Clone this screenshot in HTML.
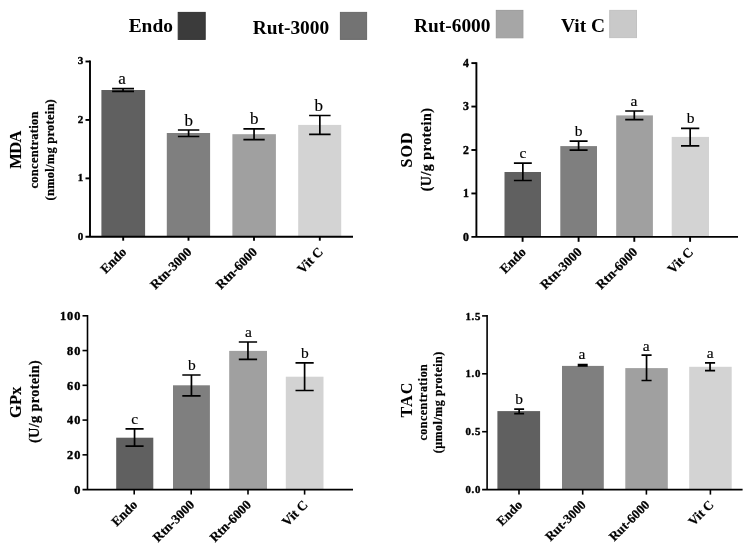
<!DOCTYPE html><html><head><meta charset="utf-8"><style>html,body{margin:0;padding:0;background:#fff;}svg{display:block;filter:grayscale(1);}text{font-family:"Liberation Serif",serif;stroke:#000;stroke-width:0.22px;}.tk{stroke-width:0.4px;}.lt{stroke-width:0.15px;}.lg{stroke-width:0;}.bt{stroke-width:0.1px;}</style></head><body>
<svg width="749" height="553" viewBox="0 0 749 553">
<rect width="749" height="553" fill="#fff"/>
<text x="128.7" y="31.7" font-size="19.4" font-weight="bold" class="lg">Endo</text>
<rect x="178.2" y="12.4" width="27.0" height="27.0" fill="#3b3b3b" stroke="#333" stroke-width="1"/>
<text x="252.7" y="34" font-size="19.4" font-weight="bold" class="lg">Rut-3000</text>
<rect x="340.4" y="12.4" width="26.2" height="27.0" fill="#737373" stroke="#6a6a6a" stroke-width="1"/>
<text x="414" y="32.1" font-size="19.4" font-weight="bold" class="lg">Rut-6000</text>
<rect x="496.3" y="10.4" width="26.6" height="27.4" fill="#a6a6a6" stroke="#9c9c9c" stroke-width="1"/>
<text x="561" y="31.5" font-size="19.4" font-weight="bold" class="lg">Vit C</text>
<rect x="609.7" y="10.4" width="26.8" height="27.2" fill="#c9c9c9" stroke="#c2c2c2" stroke-width="1"/>
<rect x="101.4" y="90.0" width="43.70" height="146.80" fill="#606060"/>
<rect x="166.8" y="133.0" width="43.30" height="103.80" fill="#7f7f7f"/>
<rect x="232.4" y="134.2" width="43.50" height="102.60" fill="#a0a0a0"/>
<rect x="298.2" y="124.9" width="43.00" height="111.90" fill="#d3d3d3"/>
<path d="M112.10 88.6H134.00M112.10 91.3H134.00M123.05 88.6V91.3" stroke="#000" stroke-width="1.7" fill="none"/>
<path d="M177.90 130.0H199.30M177.90 136.5H199.30M188.60 130.0V136.5" stroke="#000" stroke-width="1.7" fill="none"/>
<path d="M243.40 128.8H264.70M243.40 139.7H264.70M254.05 128.8V139.7" stroke="#000" stroke-width="1.7" fill="none"/>
<path d="M309.10 115.5H330.60M309.10 134.4H330.60M319.85 115.5V134.4" stroke="#000" stroke-width="1.7" fill="none"/>
<text x="122.0" y="84.1" font-size="17" text-anchor="middle" class="lt">a</text>
<text x="188.65" y="125.8" font-size="17" text-anchor="middle" class="lt">b</text>
<text x="254.25" y="124.1" font-size="17" text-anchor="middle" class="lt">b</text>
<text x="318.75" y="110.6" font-size="17" text-anchor="middle" class="lt">b</text>
<path d="M90.0 60.55V236.8M85.5 236.8H353" stroke="#000" stroke-width="1.9" fill="none"/>
<path d="M85.5 178.37H90.0" stroke="#000" stroke-width="1.90"/>
<path d="M85.5 119.93H90.0" stroke="#000" stroke-width="1.90"/>
<path d="M85.5 61.50H90.0" stroke="#000" stroke-width="1.90"/>
<text x="83.20" y="239.54" font-size="11" font-weight="bold" text-anchor="end" class="tk">0</text>
<text x="83.20" y="181.11" font-size="11" font-weight="bold" text-anchor="end" class="tk">1</text>
<text x="83.20" y="122.67" font-size="11" font-weight="bold" text-anchor="end" class="tk">2</text>
<text x="83.20" y="64.24" font-size="11" font-weight="bold" text-anchor="end" class="tk">3</text>
<path d="M123.20 236.8V240.70" stroke="#000" stroke-width="1.90"/>
<path d="M188.50 236.8V240.70" stroke="#000" stroke-width="1.90"/>
<path d="M254.00 236.8V240.70" stroke="#000" stroke-width="1.90"/>
<path d="M319.80 236.8V240.70" stroke="#000" stroke-width="1.90"/>
<text transform="translate(127.20,252.80) rotate(-45)" font-size="13.3" font-weight="bold" text-anchor="end">Endo</text>
<text transform="translate(192.50,252.80) rotate(-45)" font-size="13.3" font-weight="bold" text-anchor="end">Rtn-3000</text>
<text transform="translate(258.00,252.80) rotate(-45)" font-size="13.3" font-weight="bold" text-anchor="end">Rtn-6000</text>
<text transform="translate(323.80,252.80) rotate(-45)" font-size="13.3" font-weight="bold" text-anchor="end">Vit C</text>
<rect x="504.5" y="172.0" width="36.50" height="64.90" fill="#606060"/>
<rect x="560.3" y="146.1" width="36.70" height="90.80" fill="#7f7f7f"/>
<rect x="616.2" y="115.4" width="36.70" height="121.50" fill="#a0a0a0"/>
<rect x="671.7" y="136.9" width="37.30" height="100.00" fill="#d3d3d3"/>
<path d="M513.90 163.2H531.80M513.90 180.5H531.80M522.85 163.2V180.5" stroke="#000" stroke-width="1.7" fill="none"/>
<path d="M569.60 141.2H587.60M569.60 150.1H587.60M578.60 141.2V150.1" stroke="#000" stroke-width="1.7" fill="none"/>
<path d="M625.20 111.0H643.40M625.20 119.7H643.40M634.30 111.0V119.7" stroke="#000" stroke-width="1.7" fill="none"/>
<path d="M681.00 128.4H699.30M681.00 145.8H699.30M690.15 128.4V145.8" stroke="#000" stroke-width="1.7" fill="none"/>
<text x="522.95" y="157.9" font-size="15.5" text-anchor="middle" class="lt">c</text>
<text x="578.5" y="135.6" font-size="15.5" text-anchor="middle" class="lt">b</text>
<text x="634.0" y="105.8" font-size="15.5" text-anchor="middle" class="lt">a</text>
<text x="690.65" y="123.3" font-size="15.5" text-anchor="middle" class="lt">b</text>
<path d="M476.4 62.15V236.9M471.4 236.9H738" stroke="#000" stroke-width="1.9" fill="none"/>
<path d="M471.4 193.45H476.4" stroke="#000" stroke-width="1.90"/>
<path d="M471.4 150.00H476.4" stroke="#000" stroke-width="1.90"/>
<path d="M471.4 106.55H476.4" stroke="#000" stroke-width="1.90"/>
<path d="M471.4 63.10H476.4" stroke="#000" stroke-width="1.90"/>
<text x="469.00" y="240.61" font-size="11.8" font-weight="bold" text-anchor="end" class="tk">0</text>
<text x="469.00" y="197.16" font-size="11.8" font-weight="bold" text-anchor="end" class="tk">1</text>
<text x="469.00" y="153.71" font-size="11.8" font-weight="bold" text-anchor="end" class="tk">2</text>
<text x="469.00" y="110.26" font-size="11.8" font-weight="bold" text-anchor="end" class="tk">3</text>
<text x="469.00" y="66.81" font-size="11.8" font-weight="bold" text-anchor="end" class="tk">4</text>
<path d="M522.60 236.9V241.80" stroke="#000" stroke-width="1.90"/>
<path d="M578.60 236.9V241.80" stroke="#000" stroke-width="1.90"/>
<path d="M634.30 236.9V241.80" stroke="#000" stroke-width="1.90"/>
<path d="M690.10 236.9V241.80" stroke="#000" stroke-width="1.90"/>
<text transform="translate(526.60,252.90) rotate(-45)" font-size="13.3" font-weight="bold" text-anchor="end">Endo</text>
<text transform="translate(582.60,252.90) rotate(-45)" font-size="13.3" font-weight="bold" text-anchor="end">Rtn-3000</text>
<text transform="translate(638.30,252.90) rotate(-45)" font-size="13.3" font-weight="bold" text-anchor="end">Rtn-6000</text>
<text transform="translate(694.10,252.90) rotate(-45)" font-size="13.3" font-weight="bold" text-anchor="end">Vit C</text>
<rect x="116.2" y="437.7" width="37.10" height="51.90" fill="#606060"/>
<rect x="173.0" y="385.3" width="36.90" height="104.30" fill="#7f7f7f"/>
<rect x="229.2" y="350.9" width="37.80" height="138.70" fill="#a0a0a0"/>
<rect x="285.8" y="376.7" width="37.70" height="112.90" fill="#d3d3d3"/>
<path d="M125.50 428.8H143.60M125.50 446.2H143.60M134.55 428.8V446.2" stroke="#000" stroke-width="1.7" fill="none"/>
<path d="M182.30 375.0H200.60M182.30 395.9H200.60M191.45 375.0V395.9" stroke="#000" stroke-width="1.7" fill="none"/>
<path d="M238.80 342.0H257.10M238.80 359.3H257.10M247.95 342.0V359.3" stroke="#000" stroke-width="1.7" fill="none"/>
<path d="M295.50 362.8H313.70M295.50 390.5H313.70M304.60 362.8V390.5" stroke="#000" stroke-width="1.7" fill="none"/>
<text x="134.75" y="423.9" font-size="15.5" text-anchor="middle" class="lt">c</text>
<text x="191.95" y="369.8" font-size="15.5" text-anchor="middle" class="lt">b</text>
<text x="248.55" y="337.1" font-size="15.5" text-anchor="middle" class="lt">a</text>
<text x="304.9" y="358.4" font-size="15.5" text-anchor="middle" class="lt">b</text>
<path d="M87.5 315.00V489.6M82.5 489.6H353" stroke="#000" stroke-width="1.6" fill="none"/>
<path d="M82.5 454.84H87.5" stroke="#000" stroke-width="1.60"/>
<path d="M82.5 420.08H87.5" stroke="#000" stroke-width="1.60"/>
<path d="M82.5 385.32H87.5" stroke="#000" stroke-width="1.60"/>
<path d="M82.5 350.56H87.5" stroke="#000" stroke-width="1.60"/>
<path d="M82.5 315.80H87.5" stroke="#000" stroke-width="1.60"/>
<text x="81.20" y="493.78" font-size="12.3" font-weight="bold" text-anchor="end" class="tk" letter-spacing="0.9">0</text>
<text x="81.20" y="459.02" font-size="12.3" font-weight="bold" text-anchor="end" class="tk" letter-spacing="0.9">20</text>
<text x="81.20" y="424.26" font-size="12.3" font-weight="bold" text-anchor="end" class="tk" letter-spacing="0.9">40</text>
<text x="81.20" y="389.50" font-size="12.3" font-weight="bold" text-anchor="end" class="tk" letter-spacing="0.9">60</text>
<text x="81.20" y="354.74" font-size="12.3" font-weight="bold" text-anchor="end" class="tk" letter-spacing="0.9">80</text>
<text x="81.20" y="319.98" font-size="12.3" font-weight="bold" text-anchor="end" class="tk" letter-spacing="0.9">100</text>
<path d="M134.20 489.6V494.60" stroke="#000" stroke-width="1.60"/>
<path d="M191.20 489.6V494.60" stroke="#000" stroke-width="1.60"/>
<path d="M248.00 489.6V494.60" stroke="#000" stroke-width="1.60"/>
<path d="M304.60 489.6V494.60" stroke="#000" stroke-width="1.60"/>
<text transform="translate(138.20,505.60) rotate(-45)" font-size="13.3" font-weight="bold" text-anchor="end">Endo</text>
<text transform="translate(195.20,505.60) rotate(-45)" font-size="13.3" font-weight="bold" text-anchor="end">Rtn-3000</text>
<text transform="translate(252.00,505.60) rotate(-45)" font-size="13.3" font-weight="bold" text-anchor="end">Rtn-6000</text>
<text transform="translate(308.60,505.60) rotate(-45)" font-size="13.3" font-weight="bold" text-anchor="end">Vit C</text>
<rect x="497.4" y="411.1" width="42.70" height="78.50" fill="#606060"/>
<rect x="562.0" y="365.9" width="41.80" height="123.70" fill="#7f7f7f"/>
<rect x="625.3" y="368.1" width="42.50" height="121.50" fill="#a0a0a0"/>
<rect x="689.2" y="366.8" width="42.50" height="122.80" fill="#d3d3d3"/>
<path d="M514.20 409.2H524.10M514.20 413.7H524.10M519.15 409.2V413.7" stroke="#000" stroke-width="1.7" fill="none"/>
<path d="M577.70 364.5H587.70M577.70 366.0H587.70M582.70 364.5V366.0" stroke="#000" stroke-width="1.7" fill="none"/>
<path d="M641.50 355.2H651.60M641.50 380.5H651.60M646.55 355.2V380.5" stroke="#000" stroke-width="1.7" fill="none"/>
<path d="M705.00 362.9H715.10M705.00 370.7H715.10M710.05 362.9V370.7" stroke="#000" stroke-width="1.7" fill="none"/>
<text x="519.0" y="404.4" font-size="15.5" text-anchor="middle" class="lt">b</text>
<text x="581.85" y="358.6" font-size="15.5" text-anchor="middle" class="lt">a</text>
<text x="646.25" y="351.1" font-size="15.5" text-anchor="middle" class="lt">a</text>
<text x="710.1" y="358.3" font-size="15.5" text-anchor="middle" class="lt">a</text>
<path d="M487.1 315.10V489.6M482.1 489.6H742.6" stroke="#000" stroke-width="1.6" fill="none"/>
<path d="M482.1 431.70H487.1" stroke="#000" stroke-width="1.60"/>
<path d="M482.1 373.80H487.1" stroke="#000" stroke-width="1.60"/>
<path d="M482.1 315.90H487.1" stroke="#000" stroke-width="1.60"/>
<text x="481.00" y="493.27" font-size="10.8" font-weight="bold" text-anchor="end" class="tk" letter-spacing="0.7">0.0</text>
<text x="481.00" y="435.37" font-size="10.8" font-weight="bold" text-anchor="end" class="tk" letter-spacing="0.7">0.5</text>
<text x="481.00" y="377.47" font-size="10.8" font-weight="bold" text-anchor="end" class="tk" letter-spacing="0.7">1.0</text>
<text x="481.00" y="319.57" font-size="10.8" font-weight="bold" text-anchor="end" class="tk" letter-spacing="0.7">1.5</text>
<path d="M519.00 489.6V494.60" stroke="#000" stroke-width="1.60"/>
<path d="M582.70 489.6V494.60" stroke="#000" stroke-width="1.60"/>
<path d="M646.40 489.6V494.60" stroke="#000" stroke-width="1.60"/>
<path d="M710.40 489.6V494.60" stroke="#000" stroke-width="1.60"/>
<text transform="translate(523.00,505.60) rotate(-45)" font-size="13.0" font-weight="bold" text-anchor="end">Endo</text>
<text transform="translate(586.70,505.60) rotate(-45)" font-size="13.0" font-weight="bold" text-anchor="end">Rut-3000</text>
<text transform="translate(650.40,505.60) rotate(-45)" font-size="13.0" font-weight="bold" text-anchor="end">Rut-6000</text>
<text transform="translate(714.40,505.60) rotate(-45)" font-size="13.0" font-weight="bold" text-anchor="end">Vit C</text>
<text transform="translate(21.0,168.80) rotate(-90)" class="bt" font-size="16.5" font-weight="bold" textLength="38.30" lengthAdjust="spacing">MDA</text>
<text transform="translate(38.0,188.50) rotate(-90)" font-size="12.5" font-weight="bold" textLength="77.00" lengthAdjust="spacing">concentration</text>
<text transform="translate(53.5,200.40) rotate(-90)" font-size="12.5" font-weight="bold" textLength="101.20" lengthAdjust="spacing">(nmol/mg protein)</text>
<text transform="translate(411.5,167.50) rotate(-90)" class="bt" font-size="16" font-weight="bold" textLength="35.10" lengthAdjust="spacing">SOD</text>
<text transform="translate(430.8,191.30) rotate(-90)" font-size="14" font-weight="bold" textLength="83.20" lengthAdjust="spacing">(U/g protein)</text>
<text transform="translate(21.2,418.00) rotate(-90)" class="bt" font-size="16.5" font-weight="bold" textLength="31.30" lengthAdjust="spacing">GPx</text>
<text transform="translate(39.3,443.00) rotate(-90)" font-size="14.3" font-weight="bold" textLength="82.80" lengthAdjust="spacing">(U/g protein)</text>
<text transform="translate(411.5,417.40) rotate(-90)" class="bt" font-size="16" font-weight="bold" textLength="34.70" lengthAdjust="spacing">TAC</text>
<text transform="translate(427.3,440.50) rotate(-90)" font-size="12" font-weight="bold" textLength="76.30" lengthAdjust="spacing">concentration</text>
<text transform="translate(442.2,453.30) rotate(-90)" font-size="12" font-weight="bold" textLength="101.60" lengthAdjust="spacing">(µmol/mg protein)</text>
</svg></body></html>
